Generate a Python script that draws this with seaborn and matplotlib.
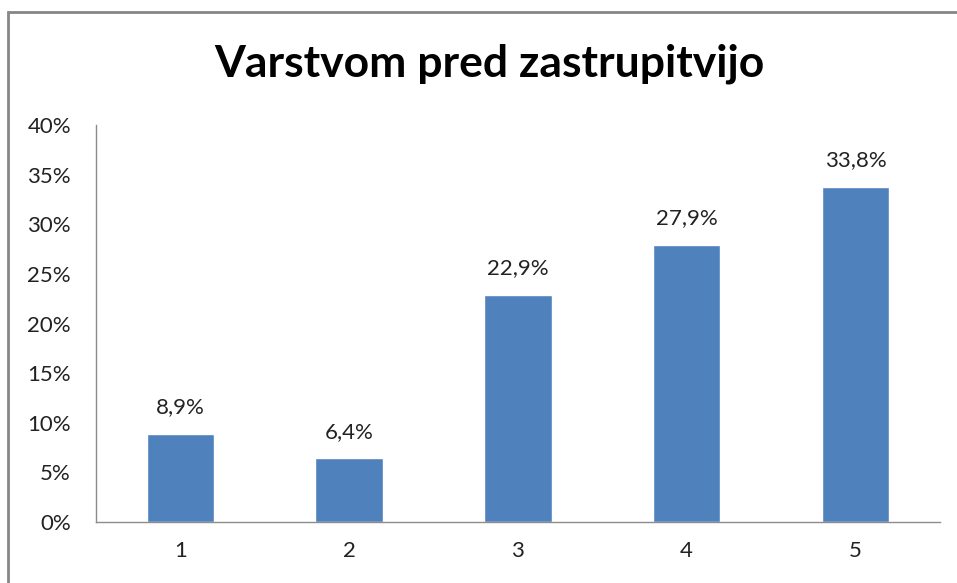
import seaborn as sns
import matplotlib.pyplot as plt
import pandas as pd
from matplotlib.patches import Rectangle
from matplotlib.ticker import FuncFormatter

categories = ["1", "2", "3", "4", "5"]
values = [8.9, 6.4, 22.9, 27.9, 33.8]
title = "Varstvom pred zastrupitvijo"

df = pd.DataFrame({"cat": categories, "val": values})

sns.set_style("white")
plt.rcParams["font.family"] = ["Lato", "DejaVu Sans"]

fig = plt.figure(figsize=(9.57, 5.83), dpi=100)
ax = fig.add_axes([0.1003, 0.1046, 0.8817, 0.681])

sns.barplot(data=df, x="cat", y="val", color="#4F81BD", saturation=1,
            width=0.4, ax=ax)

ax.set_ylim(0, 40)
ax.set_xlim(-0.5, 4.5)
ax.set_yticks(range(0, 41, 5))
ax.yaxis.set_major_formatter(FuncFormatter(lambda v, p: f"{int(v)}%"))
ax.tick_params(axis="both", length=0, labelsize=16, colors="#222222")
ax.tick_params(axis="x", pad=14)
ax.tick_params(axis="y", pad=18)
ax.set_xlabel("")
ax.set_ylabel("")

for s in ["top", "right"]:
    ax.spines[s].set_visible(False)
for s in ["left", "bottom"]:
    ax.spines[s].set_color("#8C8C8C")
    ax.spines[s].set_linewidth(1)

for i, v in enumerate(values):
    ax.text(i, v + 1.7, f"{v:.1f}%".replace(".", ","), ha="center",
            va="bottom", fontsize=16, color="#222222")

fig.text(0.511, 0.89, title, ha="center", va="center", fontsize=32,
         fontweight="bold", color="black")

# outer chart border
fig.patches.append(Rectangle((8 / 957, -0.05), 1.2, 1.05 - 12 / 583,
                             transform=fig.transFigure, fill=False,
                             edgecolor="#868686", linewidth=2))

fig.savefig("out.png", dpi=100)
plt.close(fig)
